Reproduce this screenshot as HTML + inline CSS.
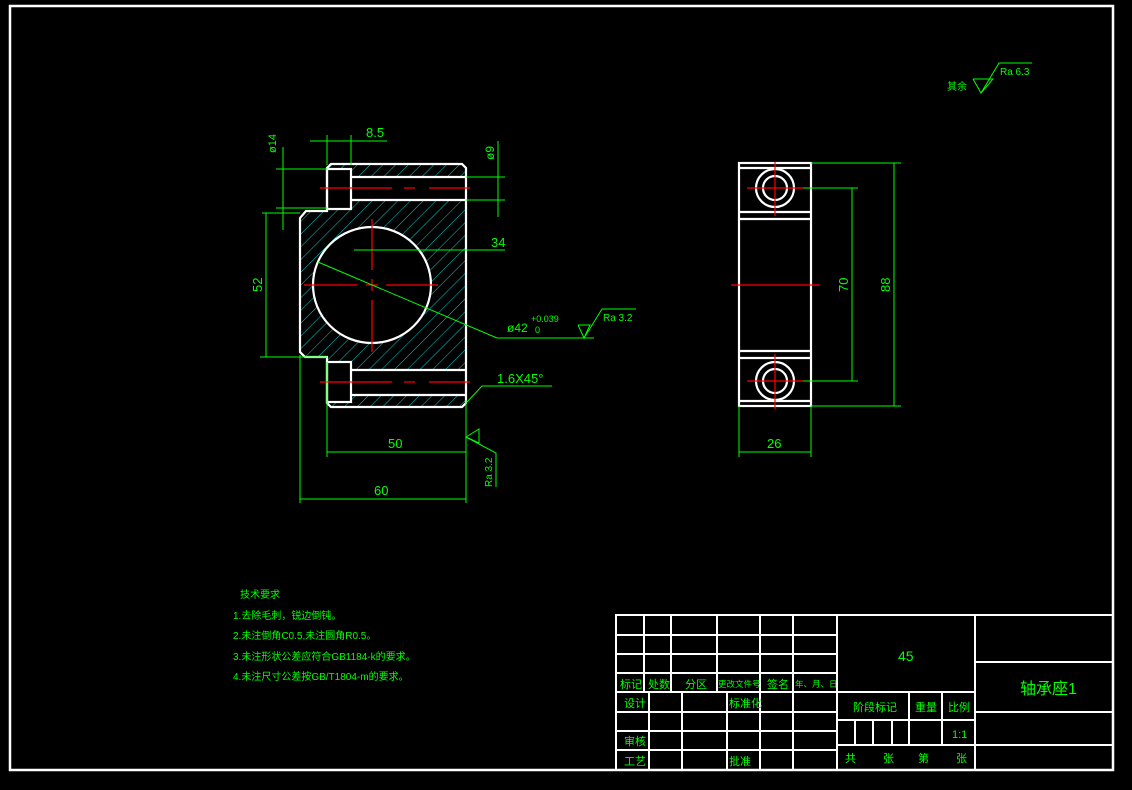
<!DOCTYPE html>
<html><head><meta charset="utf-8"><style>
html,body{margin:0;padding:0;background:#000;}
svg{display:block}
text{font-family:"Liberation Sans","Noto Sans CJK SC",sans-serif;fill:#00ff00;}
</style></head><body>
<svg width="1132" height="790" viewBox="0 0 1132 790" xmlns="http://www.w3.org/2000/svg">
<defs>
<pattern id="h" patternUnits="userSpaceOnUse" width="9" height="9" patternTransform="rotate(45)">
<line x1="0" y1="0" x2="0" y2="9" stroke="#00e5e5" stroke-width="0.9"/>
</pattern>
</defs>
<rect x="0" y="0" width="1132" height="790" fill="#000"/>
<rect x="10" y="6" width="1103" height="764" fill="none" stroke="#fff" stroke-width="2.5"/>

<path fill="url(#h)" fill-rule="evenodd" d="
M331,164 L462,164 L466,168 L466,403 L462,407 L331,407 L327,403 L327,357 L305,357 L300,352 L300,218 L306,211 L327,211 L327,168 Z
M312,285 A60,58 0 1,0 432,285 A60,58 0 1,0 312,285 Z
M327,169 L351,169 L351,177 L466,177 L466,200 L351,200 L351,209 L327,209 Z
M327,362 L351,362 L351,370 L466,370 L466,395 L351,395 L351,402 L327,402 Z"/>

<g stroke="#fff" stroke-width="2.2" fill="none">
<path d="M331,164 L462,164 L466,168 L466,403 L462,407 L331,407 L327,403 L327,357 L305,357 L300,352 L300,218 L306,211 L327,211 L327,168 Z"/>
<rect x="327" y="169" width="24" height="40"/>
<line x1="351" y1="177" x2="466" y2="177"/>
<line x1="351" y1="200" x2="466" y2="200"/>
<rect x="327" y="362" width="24" height="40"/>
<line x1="351" y1="370" x2="466" y2="370"/>
<line x1="351" y1="395" x2="466" y2="395"/>
<ellipse cx="372" cy="285" rx="59" ry="58"/>
</g>
<g stroke="#ff0000" stroke-width="1.2">
<line x1="320" y1="188" x2="392" y2="188"/><line x1="404" y1="188" x2="415" y2="188"/><line x1="429" y1="188" x2="470" y2="188"/>
<line x1="320" y1="382" x2="392" y2="382"/><line x1="404" y1="382" x2="415" y2="382"/><line x1="429" y1="382" x2="470" y2="382"/>
<line x1="304" y1="285" x2="357" y2="285"/><line x1="366" y1="285" x2="378" y2="285"/><line x1="386" y1="285" x2="438" y2="285"/>
<line x1="372" y1="219" x2="372" y2="270"/><line x1="372" y1="279" x2="372" y2="291"/><line x1="372" y1="300" x2="372" y2="352"/>
</g>

<g stroke="#00ff00" stroke-width="1" fill="none">
<line x1="310" y1="141" x2="387" y2="141"/>
<line x1="327" y1="135" x2="327" y2="165"/><line x1="351" y1="135" x2="351" y2="165"/>
<line x1="283" y1="147" x2="283" y2="230"/>
<line x1="276" y1="169" x2="327" y2="169"/><line x1="276" y1="208" x2="327" y2="208"/>
<line x1="498" y1="141" x2="498" y2="217"/>
<line x1="466" y1="177" x2="505" y2="177"/><line x1="466" y1="200" x2="505" y2="200"/>
<line x1="354" y1="250" x2="505" y2="250"/>
<line x1="266" y1="213" x2="266" y2="357"/>
<line x1="262" y1="213" x2="300" y2="213"/><line x1="260" y1="357" x2="327" y2="357"/>
<polyline points="318,262 497,338 594,338"/>
<polyline points="578,325 590,325 584,338 578,325"/>
<polyline points="584,338 602,309 636,309"/>
<polyline points="467,402 482,386 552,386"/>
<line x1="327" y1="452" x2="466" y2="452"/>
<line x1="327" y1="362" x2="327" y2="457"/><line x1="466" y1="400" x2="466" y2="503"/>
<line x1="300" y1="499" x2="466" y2="499"/>
<line x1="300" y1="355" x2="300" y2="503"/>
<polyline points="479,443 466,437 479,429 479,443"/>
<polyline points="466,437 496,453 496,487"/>
</g>
<text x="366" y="137" font-size="13">8.5</text>
<text transform="translate(276,153) rotate(-90)" font-size="11">ø14</text>
<text transform="translate(494,160) rotate(-90)" font-size="12">ø9</text>
<text x="491" y="247" font-size="13">34</text>
<text transform="translate(262,292) rotate(-90)" font-size="13">52</text>
<text x="507" y="332" font-size="12">ø42</text>
<text x="531" y="322" font-size="9">+0.039</text>
<text x="535" y="333" font-size="9">0</text>
<text x="603" y="321" font-size="10">Ra 3.2</text>
<text x="497" y="383" font-size="13">1.6X45°</text>
<text x="388" y="448" font-size="13">50</text>
<text x="374" y="495" font-size="13">60</text>
<text transform="translate(492,487) rotate(-90)" font-size="10">Ra 3.2</text>

<g stroke="#fff" stroke-width="2.2" fill="none">
<rect x="739" y="163" width="72" height="243"/>
<line x1="739" y1="168" x2="811" y2="168"/>
<line x1="739" y1="212" x2="811" y2="212"/><line x1="739" y1="219" x2="811" y2="219"/>
<line x1="739" y1="351" x2="811" y2="351"/><line x1="739" y1="358" x2="811" y2="358"/>
<line x1="739" y1="401" x2="811" y2="401"/>
<circle cx="775" cy="188" r="19"/><circle cx="775" cy="188" r="12"/>
<circle cx="775" cy="381" r="19"/><circle cx="775" cy="381" r="12"/>
</g>
<g stroke="#ff0000" stroke-width="1.2">
<line x1="731" y1="285" x2="820" y2="285"/>
<line x1="747" y1="188" x2="803" y2="188"/><line x1="775" y1="162" x2="775" y2="216"/>
<line x1="747" y1="381" x2="803" y2="381"/><line x1="775" y1="354" x2="775" y2="409"/>
</g>
<g stroke="#00ff00" stroke-width="1" fill="none">
<line x1="803" y1="188" x2="858" y2="188"/><line x1="803" y1="381" x2="858" y2="381"/>
<line x1="852" y1="188" x2="852" y2="381"/>
<line x1="811" y1="163" x2="901" y2="163"/><line x1="811" y1="406" x2="901" y2="406"/>
<line x1="894" y1="163" x2="894" y2="406"/>
<line x1="739" y1="406" x2="739" y2="457"/><line x1="811" y1="406" x2="811" y2="457"/>
<line x1="739" y1="452" x2="811" y2="452"/>
<polyline points="973,79 993,79 981,93 973,79"/>
<polyline points="981,93 999,63 1032,63"/>
</g>
<text transform="translate(848,292) rotate(-90)" font-size="13">70</text>
<text transform="translate(890,292) rotate(-90)" font-size="13">88</text>
<text x="767" y="448" font-size="13">26</text>
<text x="947" y="90" font-size="10">其余</text>
<text x="1000" y="75" font-size="10">Ra 6.3</text>

<g font-size="10">
<text x="240" y="598">技术要求</text>
<text x="233" y="619">1.去除毛刺，锐边倒钝。</text>
<text x="233" y="639">2.未注倒角C0.5,未注圆角R0.5。</text>
<text x="233" y="660">3.未注形状公差应符合GB1184-k的要求。</text>
<text x="233" y="680">4.未注尺寸公差按GB/T1804-m的要求。</text>
</g>

<g stroke="#fff" stroke-width="2" fill="none">
<rect x="616" y="615" width="497" height="155"/>
<line x1="616" y1="635" x2="837" y2="635"/>
<line x1="616" y1="654" x2="837" y2="654"/>
<line x1="616" y1="673" x2="837" y2="673"/>
<line x1="616" y1="692" x2="975" y2="692"/>
<line x1="616" y1="712" x2="837" y2="712"/>
<line x1="616" y1="731" x2="837" y2="731"/>
<line x1="616" y1="750" x2="837" y2="750"/>
<line x1="644" y1="615" x2="644" y2="692"/>
<line x1="671" y1="615" x2="671" y2="692"/>
<line x1="717" y1="615" x2="717" y2="692"/>
<line x1="760" y1="615" x2="760" y2="770"/>
<line x1="793" y1="615" x2="793" y2="770"/>
<line x1="837" y1="615" x2="837" y2="770"/>
<line x1="649" y1="692" x2="649" y2="770"/>
<line x1="682" y1="692" x2="682" y2="770"/>
<line x1="727" y1="692" x2="727" y2="770"/>
<line x1="975" y1="615" x2="975" y2="770"/>
<line x1="837" y1="720" x2="975" y2="720"/>
<line x1="837" y1="745" x2="975" y2="745"/>
<line x1="909" y1="692" x2="909" y2="745"/>
<line x1="942" y1="692" x2="942" y2="745"/>
<line x1="855" y1="720" x2="855" y2="745"/>
<line x1="873" y1="720" x2="873" y2="745"/>
<line x1="892" y1="720" x2="892" y2="745"/>
<line x1="975" y1="662" x2="1113" y2="662"/>
<line x1="975" y1="712" x2="1113" y2="712"/>
<line x1="975" y1="745" x2="1113" y2="745"/>
</g>
<g font-size="11">
<text x="620" y="688">标记</text>
<text x="648" y="688">处数</text>
<text x="685" y="688">分区</text>
<text x="718" y="687" font-size="8.5">更改文件号</text>
<text x="767" y="688">签名</text>
<text x="795" y="687" font-size="8.5">年、月、日</text>
<text x="624" y="707">设计</text>
<text x="729" y="707">标准化</text>
<text x="624" y="745">审核</text>
<text x="624" y="765">工艺</text>
<text x="729" y="765">批准</text>
<text x="853" y="711">阶段标记</text>
<text x="915" y="711">重量</text>
<text x="948" y="711">比例</text>
<text x="952" y="738">1:1</text>
<text x="845" y="762">共</text>
<text x="883" y="762">张</text>
<text x="918" y="762">第</text>
<text x="956" y="762">张</text>
</g>
<text x="898" y="661" font-size="14">45</text>
<text x="1020" y="694" font-size="16">轴承座1</text>
</svg>
</body></html>
